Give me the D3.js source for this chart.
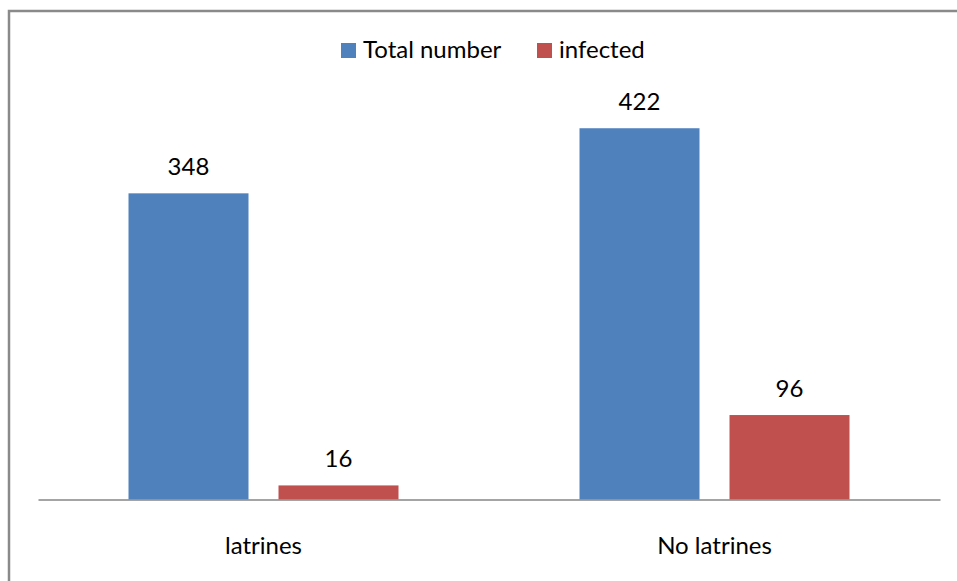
<!DOCTYPE html>
<html>
<head>
<meta charset="utf-8">
<script src="https://cdn.jsdelivr.net/npm/d3@7"></script>
<style>
  html, body { margin: 0; padding: 0; background: #fff; }
  svg { display: block; }
  text { font-family: Lato, "Liberation Sans", sans-serif; fill: #000; }
</style>
</head>
<body>
<script>
// Chart data
const categories = ["latrines", "No latrines"];
const seriesNames = ["Total number", "infected"];
const totalNumber = [348, 422];
const infected = [16, 96];
const seriesColors = ["#4F81BD", "#C0504D"];

const W = 957, H = 581;
const svg = d3.select("body").append("svg").attr("width", W).attr("height", H);

// Outer chart frame (runs past the right and bottom edges)
svg.append("rect")
  .attr("x", 9).attr("y", 11)
  .attr("width", W + 20).attr("height", H + 20)
  .attr("fill", "#fff")
  .attr("stroke", "#8a8a8a").attr("stroke-width", 2.5);

const plot = { left: 38, right: 940, top: 103.6, bottom: 499.5 };
const groupWidth = 270;

const x0 = d3.scaleBand().domain(categories).range([plot.left, plot.right]);
const x1 = d3.scaleBand().domain(seriesNames).range([0, groupWidth]).paddingInner(0.2);
const y = d3.scaleLinear().domain([0, 450]).range([plot.bottom, plot.top]);

const rows = categories.map((c, i) => ({
  category: c,
  values: [
    { series: seriesNames[0], value: totalNumber[i], color: seriesColors[0] },
    { series: seriesNames[1], value: infected[i], color: seriesColors[1] }
  ]
}));

const groups = svg.selectAll("g.cat").data(rows).join("g")
  .attr("class", "cat")
  .attr("transform", d => `translate(${x0(d.category) + (x0.bandwidth() - groupWidth) / 2},0)`);

groups.selectAll("rect").data(d => d.values).join("rect")
  .attr("x", d => x1(d.series))
  .attr("y", d => y(d.value))
  .attr("width", x1.bandwidth())
  .attr("height", d => y(0) - y(d.value))
  .attr("fill", d => d.color);

// Value labels above each bar
groups.selectAll("text.val").data(d => d.values).join("text")
  .attr("class", "val")
  .attr("x", d => x1(d.series) + x1.bandwidth() / 2)
  .attr("y", d => y(d.value) - 18)
  .attr("text-anchor", "middle")
  .attr("font-size", 24)
  .text(d => d.value);

// Category axis
const axis = svg.append("g").attr("transform", `translate(0,${plot.bottom})`)
  .call(d3.axisBottom(x0).tickSize(0).tickPadding(37));
axis.select(".domain").attr("stroke", "#868686").attr("stroke-width", 1.6);
axis.selectAll(".tick text").attr("font-size", 24).attr("font-family", "Lato, 'Liberation Sans', sans-serif").attr("fill", "#000");

// Legend
const legend = svg.append("g");
const legendItems = [
  { name: seriesNames[0], color: seriesColors[0], x: 341 },
  { name: seriesNames[1], color: seriesColors[1], x: 537 }
];
legendItems.forEach(it => {
  legend.append("rect").attr("x", it.x).attr("y", 43).attr("width", 15).attr("height", 15).attr("fill", it.color);
  legend.append("text").attr("x", it.x + 22).attr("y", 58).attr("font-size", 24).text(it.name);
});
</script>
</body>
</html>
